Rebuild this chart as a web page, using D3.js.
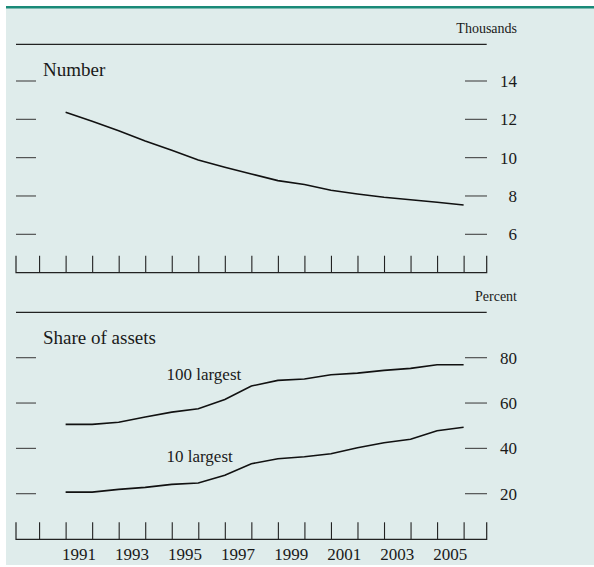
<!DOCTYPE html>
<html>
<head>
<meta charset="utf-8">
<script src="https://cdn.jsdelivr.net/npm/d3@7"></script>
<style>
  body { margin: 0; background: #fff; }
  svg text { font-family: "Liberation Serif", "Times New Roman", serif; fill: #1a1a1a; }
</style>
</head>
<body>
<div id="chart"></div>
<script>
// year-end values, 1990 .. 2005 (plotted at the year boundary)
var years = [1990, 1991, 1992, 1993, 1994, 1995, 1996, 1997, 1998, 1999, 2000, 2001, 2002, 2003, 2004, 2005];
var numberThousands = [12.37, 11.9, 11.4, 10.87, 10.38, 9.88, 9.5, 9.15, 8.8, 8.6, 8.3, 8.1, 7.93, 7.8, 7.67, 7.53];
var share100 = [50.6, 50.6, 51.5, 53.8, 56.0, 57.5, 61.6, 67.5, 70.0, 70.6, 72.5, 73.2, 74.4, 75.3, 76.9, 76.9];
var share10 = [20.7, 20.7, 21.9, 22.8, 24.1, 24.7, 28.1, 33.2, 35.4, 36.3, 37.6, 40.3, 42.5, 44.0, 47.8, 49.3];
var yearLabels = [1991, 1993, 1995, 1997, 1999, 2001, 2003, 2005];
var numberTicks = [6, 8, 10, 12, 14];
var shareTicks = [20, 40, 60, 80];

var width = 594, height = 567;
var svg = d3.select("#chart").append("svg")
    .attr("width", width)
    .attr("height", height);

// panel background + top rule
svg.append("rect").attr("x", 6).attr("y", 6).attr("width", width - 6).attr("height", 559)
    .style("fill", "#dfeceb");
svg.append("rect").attr("x", 6).attr("y", 6).attr("width", width - 6).attr("height", 2.5)
    .style("fill", "#1a8a78");

var x = d3.scaleLinear().domain([1989.13, 2006.87]).range([16, 486.7]);
var yearTicks = d3.range(1990, 2007);

function drawPanel(top, yScale, ticks, unit, unitY, baseY) {
    var g = svg.append("g");
    // top rule
    g.append("line").attr("x1", 16).attr("x2", 486.7).attr("y1", top).attr("y2", top)
        .style("stroke", "#222").style("stroke-width", 1.2);
    g.append("text").attr("x", 517).attr("y", unitY).attr("text-anchor", "end")
        .style("font-size", "14px").text(unit);

    // value ticks both sides
    ticks.forEach(function(t) {
        var yy = yScale(t);
        g.append("line").attr("x1", 16).attr("x2", 36).attr("y1", yy).attr("y2", yy)
            .style("stroke", "#444").style("stroke-width", 1.1);
        g.append("line").attr("x1", 465).attr("x2", 487).attr("y1", yy).attr("y2", yy)
            .style("stroke", "#444").style("stroke-width", 1.1);
        g.append("text").attr("x", 517).attr("y", yy + 6).attr("text-anchor", "end")
            .style("font-size", "17px").text(t);
    });

    // bottom axis with year ticks
    var axis = d3.axisTop(x).tickValues(yearTicks).tickSize(17).tickFormat("");
    var ax = g.append("g").attr("transform", "translate(0," + baseY + ")").call(axis);
    ax.select(".domain").attr("d", "M16,-17V0H486.7V-17").style("stroke", "#222").style("stroke-width", 1.2);
    ax.selectAll(".tick line").style("stroke", "#222").style("stroke-width", 1.1);
    return g;
}

// ---- Number panel
var yNum = d3.scaleLinear().domain([6, 14]).range([234.3, 81]);
var g1 = drawPanel(44.3, yNum, numberTicks, "Thousands", 33, 272.7);
g1.append("text").attr("x", 43).attr("y", 76).style("font-size", "19px").text("Number");

var line1 = d3.line()
    .x(function(d, i) { return x(years[i] + 1); })
    .y(function(d) { return yNum(d); });
g1.append("path").datum(numberThousands).attr("d", line1)
    .style("fill", "none").style("stroke", "#111").style("stroke-width", 1.6);

// ---- Share panel
var yShare = d3.scaleLinear().domain([20, 80]).range([493.7, 357.7]);
var g2 = drawPanel(312.3, yShare, shareTicks, "Percent", 301, 539.3);
g2.append("text").attr("x", 43).attr("y", 343.5).style("font-size", "19px").text("Share of assets");

var line2 = d3.line()
    .x(function(d, i) { return x(years[i] + 1); })
    .y(function(d) { return yShare(d); });
g2.append("path").datum(share100).attr("d", line2)
    .style("fill", "none").style("stroke", "#111").style("stroke-width", 1.6);
g2.append("path").datum(share10).attr("d", line2)
    .style("fill", "none").style("stroke", "#111").style("stroke-width", 1.6);
g2.append("text").attr("x", 166.5).attr("y", 380).style("font-size", "17px").text("100 largest");
g2.append("text").attr("x", 166.5).attr("y", 461.5).style("font-size", "17px").text("10 largest");

// year labels centred in their year
yearLabels.forEach(function(yr) {
    svg.append("text").attr("x", x(yr + 0.5)).attr("y", 560).attr("text-anchor", "middle")
        .style("font-size", "17px").text(yr);
});
</script>
</body>
</html>
